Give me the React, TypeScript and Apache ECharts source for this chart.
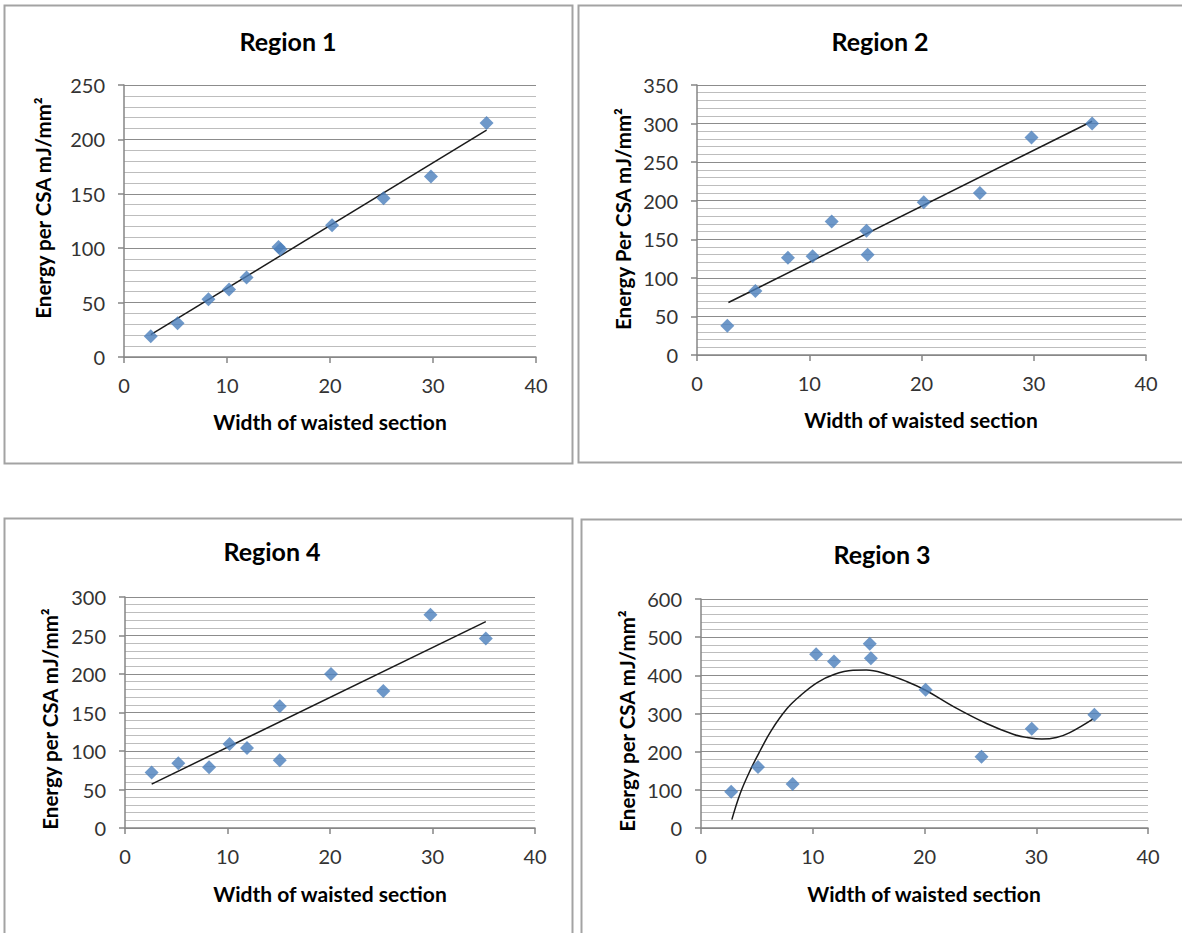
import React, { useEffect, useRef } from "react";
import * as echarts from "echarts";

// ---------- data ----------
const X_TICKS = [0, 10, 20, 30, 40];

const R1_X = [2.6, 5.2, 8.2, 10.2, 11.9, 15.0, 15.2, 20.2, 25.2, 29.8, 35.2];
const R1_Y = [19, 31, 53, 62, 73, 101, 99, 121, 146, 166, 215];
const R1_FIT_X = [2.6, 35.2];
const R1_FIT_Y = [20.5, 208.5];

const R2_X = [2.7, 5.2, 8.1, 10.3, 12.0, 15.1, 15.2, 20.2, 25.2, 29.8, 35.2];
const R2_Y = [38, 83, 126, 128, 173, 161, 130, 198, 210, 282, 300];
const R2_FIT_X = [2.8, 35.2];
const R2_FIT_Y = [68, 303];

const R4_X = [2.6, 5.2, 8.2, 10.2, 11.9, 15.1, 15.1, 20.1, 25.2, 29.8, 35.2];
const R4_Y = [72, 84, 79, 109, 104, 158, 88, 200, 178, 277, 246];
const R4_FIT_X = [2.6, 35.2];
const R4_FIT_Y = [57, 268];

const R3_X = [2.7, 5.1, 8.2, 10.3, 11.9, 15.1, 15.2, 20.1, 25.1, 29.6, 35.2];
const R3_Y = [95, 160, 115, 455, 436, 483, 445, 362, 187, 260, 297];
const R3_FIT_X = [2.76, 3.5, 4.4, 5.3, 6.3, 7.7, 8.9, 10.4, 11.9, 13.6, 14.8, 16.6, 18.4, 20.1, 22.6, 25.6, 28.0, 29.2, 30.5, 31.8, 33.0, 35.1];
const R3_FIT_Y = [22, 90, 151, 203, 256, 313, 347, 381, 402, 413, 414, 403, 384, 361, 318, 273, 245, 237, 233, 237, 250, 286];

const TITLES = ["Region 1", "Region 2", "Region 4", "Region 3"];
const X_NAME = "Width of waisted section";
const Y_NAMES = [
  "Energy per CSA mJ/mm\u00b2",
  "Energy Per CSA mJ/mm\u00b2",
  "Energy per CSA mJ/mm\u00b2",
  "Energy per CSA mJ/mm\u00b2",
];
const Y_MAX = [250, 350, 300, 600];
const Y_INTERVAL = [50, 50, 50, 100];

// ---------- layout ----------
const FONT = "Lato, 'Open Sans', sans-serif";
const layout = [
  { grid: { left: 124, top: 85, width: 412, height: 272 }, title: [288, 41], xName: [330, 421], yName: [43, 208], border: [4.5, 5.5, 568, 458] },
  { grid: { left: 697, top: 85, width: 449, height: 270 }, title: [880, 41], xName: [921, 419], yName: [623, 219], border: [578.5, 5.5, 620, 457] },
  { grid: { left: 125, top: 597, width: 410, height: 231 }, title: [272, 551], xName: [330, 893], yName: [50, 719], border: [4.5, 518.5, 568, 500] },
  { grid: { left: 701, top: 599, width: 447, height: 229 }, title: [882, 554], xName: [924, 893], yName: [627, 721], border: [581.5, 519.5, 620, 500] },
];

const DATA = [
  { xs: R1_X, ys: R1_Y, fx: R1_FIT_X, fy: R1_FIT_Y, smooth: false },
  { xs: R2_X, ys: R2_Y, fx: R2_FIT_X, fy: R2_FIT_Y, smooth: false },
  { xs: R4_X, ys: R4_Y, fx: R4_FIT_X, fy: R4_FIT_Y, smooth: false },
  { xs: R3_X, ys: R3_Y, fx: R3_FIT_X, fy: R3_FIT_Y, smooth: true },
];

function buildOption() {
  const grids: any[] = [];
  const xAxes: any[] = [];
  const yAxes: any[] = [];
  const series: any[] = [];
  const graphics: any[] = [];

  layout.forEach((L, i) => {
    grids.push({ ...L.grid, containLabel: false });
    xAxes.push({
      type: "value",
      gridIndex: i,
      min: X_TICKS[0],
      max: X_TICKS[X_TICKS.length - 1],
      interval: X_TICKS[1] - X_TICKS[0],
      axisLine: { show: true, onZero: false, lineStyle: { color: "#868686", width: 1.5 } },
      axisTick: { show: true, inside: false, length: 6, lineStyle: { color: "#868686", width: 1.5 } },
      axisLabel: { color: "#333", fontFamily: FONT, fontSize: 20, margin: 18 },
      splitLine: { show: false },
    });
    yAxes.push({
      type: "value",
      gridIndex: i,
      min: 0,
      max: Y_MAX[i],
      interval: Y_INTERVAL[i],
      axisLine: { show: true, onZero: false, lineStyle: { color: "#868686", width: 1.5 } },
      axisTick: { show: true, inside: false, length: 6, lineStyle: { color: "#868686", width: 1.5 } },
      axisLabel: { color: "#333", fontFamily: FONT, fontSize: 20, margin: 19 },
      splitLine: { show: true, lineStyle: { color: "#8c8c8c", width: 1.2 } },
      minorTick: { show: false, splitNumber: 5 },
      minorSplitLine: { show: true, lineStyle: { color: "#bdbdbd", width: 1 } },
    });
    const D = DATA[i];
    series.push({
      type: "line",
      xAxisIndex: i,
      yAxisIndex: i,
      data: D.fx.map((x, k) => [x, D.fy[k]]),
      symbol: "none",
      smooth: D.smooth ? 0.4 : false,
      lineStyle: { color: "#1a1a1a", width: 1.5 },
      z: 2,
      silent: true,
    });
    series.push({
      type: "scatter",
      xAxisIndex: i,
      yAxisIndex: i,
      data: D.xs.map((x, k) => [x, D.ys[k]]),
      symbol: "diamond",
      symbolSize: [14, 14],
      itemStyle: { color: "#4a7ebb" },
      z: 3,
    });

    const [bx, by, bw, bh] = L.border;
    graphics.push({
      type: "rect",
      shape: { x: bx, y: by, width: bw, height: bh },
      style: { fill: "none", stroke: "#a3a3a3", lineWidth: 2 },
      z: -10,
      silent: true,
    });
    graphics.push({
      type: "text",
      x: L.title[0],
      y: L.title[1],
      style: {
        text: TITLES[i],
        font: `bold 25px ${FONT}`,
        fill: "#000",
        textAlign: "center",
        textVerticalAlign: "middle",
      },
    });
    graphics.push({
      type: "text",
      x: L.xName[0],
      y: L.xName[1],
      style: {
        text: X_NAME,
        font: `bold 21px ${FONT}`,
        fill: "#000",
        textAlign: "center",
        textVerticalAlign: "middle",
      },
    });
    graphics.push({
      type: "text",
      x: L.yName[0],
      y: L.yName[1],
      rotation: Math.PI / 2,
      style: {
        text: Y_NAMES[i],
        font: `bold 20.5px ${FONT}`,
        fill: "#000",
        textAlign: "center",
        textVerticalAlign: "middle",
      },
    });
  });

  return {
    animation: false,
    backgroundColor: "#ffffff",
    grid: grids,
    xAxis: xAxes,
    yAxis: yAxes,
    series,
    graphic: graphics,
  };
}

export default function App() {
  const ref = useRef<HTMLDivElement>(null);
  useEffect(() => {
    if (!ref.current) return;
    const chart = echarts.init(ref.current, null, { renderer: "svg" });
    chart.setOption(buildOption() as any);
    return () => chart.dispose();
  }, []);
  return (
    <div
      ref={ref}
      style={{ position: "absolute", left: 0, top: 0, width: 1182, height: 933 }}
    />
  );
}
